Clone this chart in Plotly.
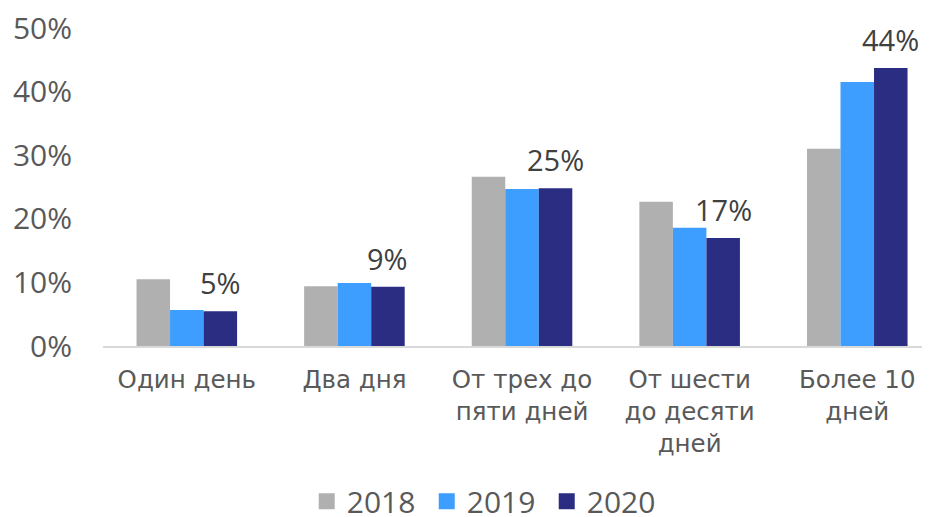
import plotly.graph_objects as go

categories = ["Один день", "Два дня", "От трех до<br>пяти дней", "От шести<br>до десяти<br>дней", "Более 10<br>дней"]
years = ["2018", "2019", "2020"]
v2018 = [0.105, 0.094, 0.266, 0.227, 0.310]
v2019 = [0.0566, 0.099, 0.247, 0.186, 0.415]
v2020 = [0.0545, 0.093, 0.248, 0.170, 0.437]
colors = ["#B0B0B0", "#3D9EFF", "#2B2D83"]
yticks = [0, 0.1, 0.2, 0.3, 0.4, 0.5]

FONT = "Open Sans"
CAT_FONT = "DejaVu Sans"
W, H = 922, 509  # page body has an 8px margin in the 930x517 window
fig = go.Figure()
for name, vals, col in zip(years, [v2018, v2019, v2020], colors):
    fig.add_trace(go.Bar(
        x=categories, y=vals, name=name, marker=dict(color=col, line=dict(width=0)),
        showlegend=False,
    ))
    fig.add_trace(go.Scatter(
        x=[None], y=[None], mode="markers", name=name,
        marker=dict(symbol="square", size=18, color=col),
    ))

# value labels over the 2020 bars
for c, v in zip(categories, v2020):
    fig.add_annotation(
        x=c, y=v, xref="x", yref="y", text=f"{v:.0%}", showarrow=False,
        xshift=33.5, yshift=28.5, yanchor="middle",
        font=dict(family=FONT, size=29, color="#404040"),
    )

fig.update_layout(
    width=W, height=H,
    margin=dict(l=95, r=0, t=20, b=171, autoexpand=False),
    paper_bgcolor="white", plot_bgcolor="white",
    barmode="group", bargap=0.4, bargroupgap=0,
    font=dict(family=FONT, color="#595959"),
    legend=dict(orientation="h", xref="container", yref="container",
                x=0.324, xanchor="left", y=0.031, yanchor="middle",
                font=dict(family=FONT, size=30, color="#595959"),
                entrywidth=75, entrywidthmode="pixels", tracegroupgap=0),
)
fig.update_xaxes(
    range=[-0.5, 4.434], showline=True, linecolor="#D9D9D9", linewidth=2,
    ticks="outside", ticklen=11, tickcolor="white", automargin=False,
    tickfont=dict(family=CAT_FONT, size=24.5, color="#595959"),
    showgrid=False, fixedrange=True,
)
fig.update_yaxes(
    range=[0, 0.5], tickvals=yticks, tickformat=".0%", automargin=False,
    showgrid=False, zeroline=False, showline=False,
    tickfont=dict(family=FONT, size=30, color="#595959"),
    ticklabelstandoff=30, ticklabeloverflow="allow",
)
fig.write_html("out.html")
